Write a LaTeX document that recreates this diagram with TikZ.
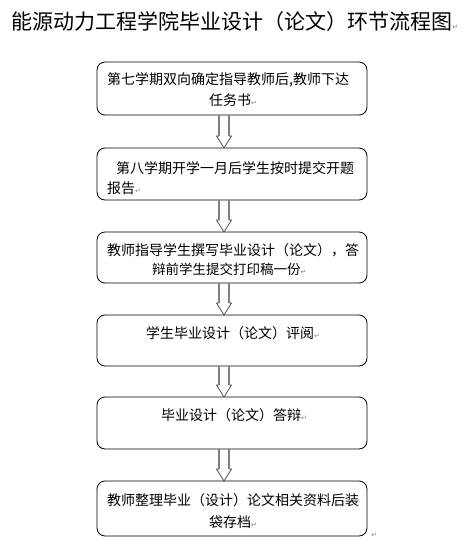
\documentclass[tikz,border=0pt]{standalone}
\usepackage{fontspec}
\setmainfont{Noto Sans CJK SC}
\newfontfamily\dejavu{DejaVu Sans}
\usetikzlibrary{calc}
\newcommand{\pmark}{{\dejavu\color{gray}\fontsize{7pt}{7pt}\selectfont ↵}}
\tikzset{
  flowbox/.style={draw=black, line width=0.8pt, rounded corners=8pt,
    minimum width=270pt, inner sep=0pt, outer sep=0pt},
  linetext/.style={anchor=west, inner sep=0pt, font=\fontsize{14pt}{16pt}\selectfont},
  titletext/.style={anchor=west, inner sep=0pt, font=\fontsize{21pt}{24pt}\selectfont},
  shaft/.style={draw=gray, line width=1.6pt},
  arrowhead/.style={draw=black!75, line width=0.7pt, fill=white},
}
\newcommand{\flowarrow}[2]{%
  \path ($(#1.south)+(-8pt,0)$) coordinate (#1-s)
        ($(#2.north)+(-8pt,0)$) coordinate (#2-n);
  \draw[arrowhead] ($(#2-n)+(-5pt,12pt)$) -- ($(#2-n)+(-7.5pt,12pt)$) -- (#2-n)
     -- ($(#2-n)+(7.5pt,12pt)$) -- ($(#2-n)+(5pt,12pt)$);
  \draw[shaft] ($(#1-s)+(-5pt,0)$) -- ($(#2-n)+(-5pt,12pt)$);
  \draw[shaft] ($(#1-s)+(5pt,0)$) -- ($(#2-n)+(5pt,12pt)$);
}
\begin{document}
\begin{tikzpicture}[x=1pt,y=1pt]
\useasboundingbox (0,0) rectangle (465,-552);
% title
\node[titletext] (title) at (11,-22) {能源动力工程学院毕业设计（论文）环节流程图\pmark};
% boxes
\node[flowbox, minimum height=53pt] (b1) at (232,-88.5) {};
\node[flowbox, minimum height=52pt] (b2) at (232,-174) {};
\node[flowbox, minimum height=51pt] (b3) at (232,-257.5) {};
\node[flowbox, minimum height=51pt] (b4) at (232,-340.5) {};
\node[flowbox, minimum height=52pt] (b5) at (232,-423) {};
\node[flowbox, minimum height=55pt] (b6) at (232,-508.5) {};
% texts
\node[linetext] (t1a) at (107,-80) {第七学期双向确定指导教师后,教师下达};
\node[linetext] (t1b) at (209,-100) {任务书\pmark};
\node[linetext] (t2a) at (116,-168) {第八学期开学一月后学生按时提交开题};
\node[linetext] (t2b) at (107,-188) {报告\pmark};
\node[linetext] (t3a) at (107,-250) {教师指导学生撰写毕业设计（论文），答};
\node[linetext, font=\fontsize{13.5pt}{16pt}\selectfont] (t3b) at (152,-269) {辩前学生提交打印稿一份\pmark};
\node[linetext] (t4) at (146,-333) {学生毕业设计（论文）评阅\pmark};
\node[linetext] (t5) at (161,-415) {毕业设计（论文）答辩\pmark};
\node[linetext] (t6a) at (107,-500) {教师整理毕业（设计）论文相关资料后装};
\node[linetext] (t6b) at (209,-522) {袋存档\pmark};
\node[inner sep=0pt] (endmark) at (374,-535) {\pmark};
% arrows
\flowarrow{b1}{b2}
\flowarrow{b2}{b3}
\flowarrow{b3}{b4}
\flowarrow{b4}{b5}
\flowarrow{b5}{b6}
\end{tikzpicture}
\end{document}
